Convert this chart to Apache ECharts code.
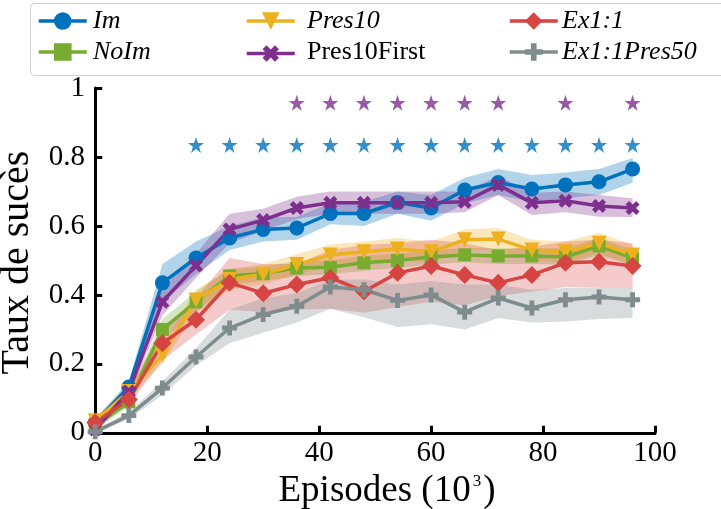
<!DOCTYPE html>
<html><head><meta charset="utf-8">
<script src="https://cdn.jsdelivr.net/npm/echarts@6/dist/echarts.min.js"></script>
<style>html,body{margin:0;padding:0;background:#fff}#c{width:721px;height:509px}</style>
</head><body><div id="c"></div>
<script>
const xs = [0,6,12,18,24,30,36,42,48,54,60,66,72,78,84,90,96];

const imVal = [0.03,0.133,0.435,0.507,0.565,0.59,0.594,0.636,0.636,0.668,0.652,0.704,0.726,0.707,0.719,0.728,0.765];
const imLo  = [0.02,0.115,0.38,0.46,0.53,0.555,0.56,0.605,0.60,0.635,0.615,0.665,0.69,0.67,0.68,0.69,0.725];
const imHi  = [0.04,0.15,0.49,0.555,0.60,0.625,0.627,0.665,0.67,0.70,0.69,0.74,0.765,0.748,0.755,0.765,0.797];

const noImVal = [0.02,0.09,0.30,0.38,0.455,0.462,0.478,0.48,0.493,0.50,0.51,0.516,0.513,0.513,0.51,0.542,0.507];
const noImLo  = [0.01,0.075,0.27,0.35,0.43,0.44,0.455,0.46,0.47,0.478,0.488,0.495,0.49,0.49,0.488,0.515,0.485];
const noImHi  = [0.03,0.105,0.33,0.41,0.475,0.482,0.498,0.50,0.513,0.52,0.53,0.536,0.535,0.535,0.535,0.565,0.53];

const pres10Val = [0.035,0.12,0.226,0.385,0.445,0.46,0.488,0.516,0.525,0.533,0.525,0.56,0.562,0.53,0.525,0.55,0.516];
const pres10Lo  = [0.025,0.10,0.20,0.35,0.415,0.43,0.458,0.486,0.495,0.50,0.495,0.53,0.53,0.50,0.495,0.52,0.485];
const pres10Hi  = [0.045,0.14,0.255,0.415,0.475,0.49,0.518,0.546,0.555,0.565,0.555,0.59,0.594,0.56,0.555,0.58,0.545];

const pfVal = [0.01,0.12,0.38,0.485,0.59,0.617,0.652,0.667,0.667,0.667,0.667,0.67,0.719,0.667,0.673,0.658,0.652];
const pfLo  = [0.0,0.105,0.34,0.45,0.55,0.585,0.62,0.635,0.635,0.635,0.635,0.64,0.69,0.632,0.64,0.627,0.626];
const pfHi  = [0.02,0.135,0.42,0.52,0.635,0.65,0.685,0.70,0.70,0.70,0.70,0.70,0.745,0.696,0.70,0.69,0.68];

const exVal = [0.03,0.097,0.26,0.328,0.435,0.405,0.43,0.45,0.41,0.464,0.484,0.458,0.435,0.458,0.493,0.496,0.484];
const exLo  = [0.02,0.08,0.21,0.285,0.357,0.35,0.357,0.36,0.348,0.365,0.38,0.37,0.396,0.41,0.423,0.423,0.423];
const exHi  = [0.045,0.13,0.30,0.39,0.507,0.49,0.49,0.53,0.545,0.55,0.56,0.55,0.53,0.54,0.555,0.56,0.55];

const ex50Val = [0.003,0.05,0.13,0.22,0.304,0.343,0.367,0.423,0.415,0.384,0.40,0.35,0.391,0.362,0.386,0.394,0.386];
const ex50Lo  = [0.0,0.04,0.11,0.195,0.26,0.29,0.32,0.36,0.335,0.307,0.315,0.30,0.333,0.32,0.323,0.33,0.333];
const ex50Hi  = [0.01,0.06,0.15,0.245,0.357,0.39,0.405,0.445,0.445,0.43,0.44,0.43,0.43,0.415,0.42,0.423,0.423];

const blueStarX = [18,24,30,36,42,48,54,60,66,72,78,84,90,96];
const blueStarLevel = 0.835;
const purpleStarX = [36,42,48,54,60,66,72,84,96];
const purpleStarLevel = 0.957;

const yTicks = [0,0.2,0.4,0.6,0.8,1];
const xTicks = [0,20,40,60,80,100];

const FONT = 'Liberation Serif';
const STAR = 'path://M50,0 L61.8,35.1 L98.6,35.1 L68.8,56.7 L80.2,91.9 L50,70.2 L19.8,91.9 L31.2,56.7 L1.4,35.1 L38.2,35.1 Z';
const PLUS = 'path://M34,0 H66 V34 H100 V66 H66 V100 H34 V66 H0 V34 H34 Z';

const defs = [
  {name:'Im', val:imVal, lo:imLo, hi:imHi, color:'#0072BD', band:'rgba(0,114,189,0.3)', symbol:'circle', size:15, rot:0},
  {name:'NoIm', val:noImVal, lo:noImLo, hi:noImHi, color:'#77AC30', band:'rgba(119,172,48,0.3)', symbol:'rect', size:13, rot:0},
  {name:'Pres10', val:pres10Val, lo:pres10Lo, hi:pres10Hi, color:'#EDB120', band:'rgba(237,177,32,0.3)', symbol:'triangle', size:15, rot:180},
  {name:'Pres10First', val:pfVal, lo:pfLo, hi:pfHi, color:'#7E2F8E', band:'rgba(126,47,142,0.3)', symbol:PLUS, size:15, rot:45},
  {name:'Ex1:1', val:exVal, lo:exLo, hi:exHi, color:'#D64541', band:'rgba(214,69,65,0.28)', symbol:'diamond', size:18, rot:0},
  {name:'Ex1:1Pres50', val:ex50Val, lo:ex50Lo, hi:ex50Hi, color:'#7F8C8D', band:'rgba(127,140,141,0.3)', symbol:PLUS, size:15, rot:0}
];
const italic = new Set(['Im','NoIm','Pres10','Ex1:1','Ex1:1Pres50']);
// legend slots: [iconLeft, textLeft, rowCenterY]
const legendSlots = {
  'Im':[37,93,21], 'NoIm':[37,93,52],
  'Pres10':[245,307,21], 'Pres10First':[245,307,52],
  'Ex1:1':[508,562,21], 'Ex1:1Pres50':[508,562,52]
};

const series = [];
defs.forEach(d => {
  series.push({
    type:'custom', name:d.name+'_band', silent:true, z:1,
    data: xs.map((x,i)=>[x, d.lo[i], d.hi[i]]),
    encode:{x:0, y:[1,2]},
    renderItem:(params, api) => {
      if (params.dataIndex !== 0) return null;
      const pts = [];
      for (let i=0;i<xs.length;i++) pts.push(api.coord([xs[i], d.hi[i]]));
      for (let i=xs.length-1;i>=0;i--) pts.push(api.coord([xs[i], d.lo[i]]));
      return {type:'polygon', shape:{points:pts}, style:{fill:d.band}};
    }
  });
});
defs.forEach(d => {
  series.push({
    type:'line', name:d.name, z:3,
    data: xs.map((x,i)=>[x, d.val[i]]),
    symbol:d.symbol, symbolSize:d.size, symbolRotate:d.rot, showAllSymbol:true,
    lineStyle:{width:3.5, color:d.color}, itemStyle:{color:d.color},
    emphasis:{disabled:true}, animation:false
  });
});
series.push({
  type:'scatter', name:'starsBlue', z:4, symbol:STAR, symbolSize:16,
  itemStyle:{color:'#0072BD'},
  data: blueStarX.map(x=>[x, blueStarLevel])
});
series.push({
  type:'scatter', name:'starsPurple', z:4, symbol:STAR, symbolSize:16,
  itemStyle:{color:'#7E2F8E'},
  data: purpleStarX.map(x=>[x, purpleStarLevel])
});

const legends = defs.map(d => {
  const s = legendSlots[d.name];
  return {left:s[0], top:s[2]-11, orient:'horizontal', itemGap:0, itemWidth:48, itemHeight:22,
    data:[d.name], selectedMode:false, padding:0, formatter:() => '',
    lineStyle:{width:3.5}};
});
const graphics = [{type:'rect', left:30, top:3, shape:{width:700, height:72, r:4},
    style:{fill:'#fff', stroke:'#d0d0d0', lineWidth:1}, z:0}];
defs.forEach(d => {
  const s = legendSlots[d.name];
  graphics.push({type:'text', x:s[1], y:s[2], z:10,
    style:{text:d.name,
      font:(italic.has(d.name)?'italic ':'') + "26px 'Liberation Serif', 'DejaVu Serif', serif",
      fill:'#000', verticalAlign:'middle', align:'left'}});
});

const chart = echarts.init(document.getElementById('c'), null, {renderer:'canvas'});
chart.setOption({
  animation:false,
  backgroundColor:'#fff',
  textStyle:{fontFamily:FONT},
  graphic:graphics,
  legend:legends,
  grid:{left:93, right:66, top:88, bottom:72, containLabel:false, outerBoundsMode:'none'},
  xAxis:{
    type:'value', min:-0.4, max:100,
    axisLine:{show:true, lineStyle:{color:'#000', width:3}},
    axisTick:{show:true, inside:true, length:7, lineStyle:{width:3, color:'#000'}, customValues:xTicks},
    axisLabel:{fontFamily:FONT, fontSize:29, color:'#000', margin:2, customValues:xTicks},
    splitLine:{show:false},
    name:'{a|Episodes (10}{s|3}{a|)}', nameLocation:'middle', nameGap:34,
    nameTextStyle:{padding:[0,0,0,26], rich:{a:{fontFamily:FONT, fontSize:37, color:'#000'}, s:{fontFamily:FONT, fontSize:17, color:'#000', verticalAlign:'top', padding:[0,2,16,2]}}}
  },
  yAxis:{
    type:'value', min:-0.012, max:1,
    axisLine:{show:true, lineStyle:{color:'#000', width:3}},
    axisTick:{show:true, inside:true, length:7, lineStyle:{width:3, color:'#000'}, customValues:yTicks},
    axisLabel:{fontFamily:FONT, fontSize:29, color:'#000', margin:8, customValues:yTicks,
      formatter:v => String(Math.round(v*10)/10)},
    splitLine:{show:false},
    name:'Taux de sucès', nameLocation:'middle', nameGap:38, nameRotate:90,
    nameTextStyle:{fontFamily:FONT, fontSize:40, color:'#000'}
  },
  series:series
});
</script></body></html>
